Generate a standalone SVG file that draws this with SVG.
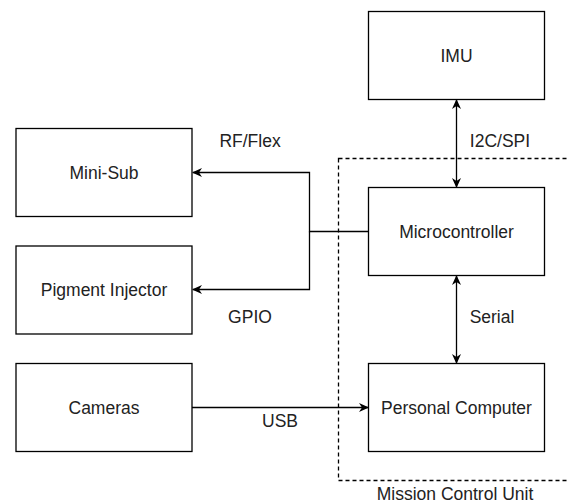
<svg xmlns="http://www.w3.org/2000/svg" width="568" height="502" viewBox="0 0 568 502">
<defs>
<style>
.box{fill:#fff;stroke:#000;stroke-width:1.3}
.t{font-family:"Liberation Sans",Arial,sans-serif;font-size:17.5px;fill:#222;text-anchor:middle}
.c{fill:none;stroke:#000;stroke-width:1.3}
.grp{fill:none;stroke:#000;stroke-width:1.3;stroke-dasharray:4 3}
</style>
<marker id="ah" viewBox="0 0 10 10" refX="9" refY="5" markerWidth="10" markerHeight="10" markerUnits="userSpaceOnUse" orient="auto-start-reverse">
<path d="M0,0.5 L10,5 L0,9.5 L3,5 z" fill="#000"/>
</marker>
</defs>
<g id="group-mcu">
<rect class="grp" x="338.5" y="158.5" width="240" height="322"/>
<text class="t" x="455" y="499.5">Mission Control Unit</text>
</g>
<g id="imu"><rect class="box" x="368.5" y="11.5" width="176" height="88"/><text class="t" x="456.5" y="61.5">IMU</text></g>
<g id="mini-sub"><rect class="box" x="16" y="128.5" width="176" height="88"/><text class="t" x="104" y="178.5">Mini-Sub</text></g>
<g id="pigment"><rect class="box" x="16" y="246" width="176" height="88"/><text class="t" x="104" y="295.5">Pigment Injector</text></g>
<g id="cameras"><rect class="box" x="16" y="363.5" width="176" height="88"/><text class="t" x="104" y="413.5">Cameras</text></g>
<g id="micro"><rect class="box" x="368.5" y="187.5" width="176" height="88"/><text class="t" x="456.5" y="237.5">Microcontroller</text></g>
<g id="pc"><rect class="box" x="368.5" y="363.5" width="176" height="88"/><text class="t" x="456.5" y="413.5">Personal Computer</text></g>
<g id="connectors">
<path class="c" d="M456.5,100 L456.5,187" marker-start="url(#ah)" marker-end="url(#ah)"/>
<path class="c" d="M456.5,276 L456.5,363" marker-start="url(#ah)" marker-end="url(#ah)"/>
<path class="c" d="M368.5,231.5 L309.5,231.5 L309.5,172.5 L193,172.5" marker-end="url(#ah)"/>
<path class="c" d="M309.5,231.5 L309.5,289.5 L193,289.5" marker-end="url(#ah)"/>
<path class="c" d="M192,407.5 L368,407.5" marker-end="url(#ah)"/>
<text class="t" x="250" y="146.5">RF/Flex</text>
<text class="t" x="500" y="146.5">I2C/SPI</text>
<text class="t" x="250" y="322.5">GPIO</text>
<text class="t" x="492" y="322.5">Serial</text>
<text class="t" x="280" y="426.5">USB</text>
</g>
</svg>
